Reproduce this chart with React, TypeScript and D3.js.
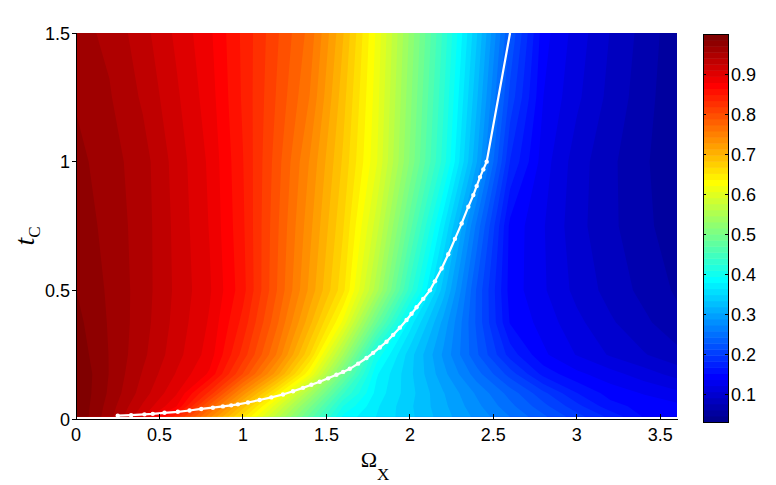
import { useEffect, useRef } from 'react';
import * as d3 from 'd3';

// colour map sampled on a grid: columns = Omega_X, rows = t_C
const omegaCols = [0, 0.2, 0.4, 0.6, 0.8, 1.0, 1.2, 1.4, 1.6, 1.8, 2.0, 2.2, 2.4, 2.6, 2.8, 3.0, 3.2, 3.4, 3.6];
const tRows = [0.01, 0.05, 0.1, 0.175, 0.25, 0.375, 0.5, 0.75, 1.0, 1.25, 1.5];

const rowT001 = [1.0, 0.96, 0.911, 0.842, 0.748, 0.658, 0.569, 0.479, 0.39, 0.363, 0.337, 0.31, 0.283, 0.257, 0.23, 0.203, 0.177, 0.15, 0.145];
const rowT005 = [1.0, 0.963, 0.922, 0.88, 0.782, 0.69, 0.598, 0.504, 0.409, 0.366, 0.336, 0.307, 0.277, 0.247, 0.217, 0.187, 0.157, 0.146, 0.14];
const rowT010 = [1.0, 0.967, 0.932, 0.896, 0.828, 0.735, 0.645, 0.544, 0.441, 0.373, 0.339, 0.304, 0.27, 0.236, 0.201, 0.167, 0.145, 0.135, 0.125];
const rowT0175 = [1.0, 0.969, 0.938, 0.908, 0.876, 0.802, 0.72, 0.623, 0.494, 0.381, 0.337, 0.293, 0.249, 0.205, 0.161, 0.14, 0.127, 0.113, 0.1];
const rowT025 = [0.995, 0.969, 0.943, 0.915, 0.887, 0.827, 0.757, 0.667, 0.545, 0.404, 0.34, 0.285, 0.23, 0.175, 0.139, 0.12, 0.104, 0.092, 0.08];
const rowT0375 = [0.99, 0.968, 0.946, 0.919, 0.892, 0.843, 0.777, 0.702, 0.617, 0.487, 0.372, 0.298, 0.224, 0.15, 0.13, 0.11, 0.093, 0.079, 0.065];
const rowT050 = [0.985, 0.967, 0.947, 0.921, 0.896, 0.854, 0.789, 0.723, 0.656, 0.552, 0.432, 0.325, 0.225, 0.145, 0.123, 0.101, 0.085, 0.071, 0.058];
const rowT075 = [0.98, 0.964, 0.947, 0.92, 0.893, 0.851, 0.792, 0.732, 0.668, 0.583, 0.476, 0.367, 0.253, 0.147, 0.122, 0.096, 0.079, 0.065, 0.05];
const rowT100 = [0.975, 0.961, 0.946, 0.918, 0.891, 0.849, 0.796, 0.741, 0.679, 0.608, 0.513, 0.418, 0.304, 0.181, 0.128, 0.098, 0.079, 0.063, 0.048];
const rowT125 = [0.968, 0.956, 0.937, 0.912, 0.886, 0.846, 0.802, 0.757, 0.688, 0.613, 0.52, 0.427, 0.321, 0.207, 0.136, 0.109, 0.086, 0.067, 0.048];
const rowT150 = [0.96, 0.951, 0.93, 0.906, 0.882, 0.845, 0.806, 0.767, 0.698, 0.618, 0.527, 0.436, 0.335, 0.226, 0.142, 0.114, 0.09, 0.07, 0.05];

// white boundary curve
const curveOmega = [0.25, 0.33, 0.41, 0.46, 0.53, 0.61, 0.68, 0.75, 0.82, 0.88, 0.93, 0.97, 1.03, 1.10, 1.17, 1.24, 1.30, 1.36, 1.41, 1.46, 1.51, 1.56, 1.60, 1.64, 1.69, 1.74, 1.78, 1.82, 1.86, 1.90, 1.94, 1.98, 2.01, 2.04, 2.08, 2.12, 2.15, 2.19, 2.23, 2.27, 2.31, 2.35, 2.38, 2.40, 2.42, 2.44, 2.46, 2.60];
const curveT = [0.013, 0.015, 0.018, 0.020, 0.024, 0.028, 0.033, 0.039, 0.044, 0.049, 0.053, 0.057, 0.064, 0.074, 0.084, 0.095, 0.108, 0.121, 0.133, 0.145, 0.158, 0.172, 0.183, 0.195, 0.215, 0.237, 0.257, 0.278, 0.30, 0.327, 0.355, 0.385, 0.409, 0.434, 0.467, 0.50, 0.535, 0.585, 0.64, 0.70, 0.76, 0.825, 0.87, 0.905, 0.94, 0.97, 1.0, 1.5];

const xTicks = [0, 0.5, 1, 1.5, 2, 2.5, 3, 3.5];
const yTicks = [0, 0.5, 1, 1.5];
const cbarTicks = [0.1, 0.2, 0.3, 0.4, 0.5, 0.6, 0.7, 0.8, 0.9];
const cMin = 0.03;
const cMax = 1.0;

const fieldRows = [rowT001, rowT005, rowT010, rowT0175, rowT025, rowT0375, rowT050, rowT075, rowT100, rowT125, rowT150];

// MATLAB style jet(m)
function jetColors(m: number): string[] {
  const n = Math.ceil(m / 4);
  const u = [
    ...d3.range(1, n + 1).map((i) => i / n),
    ...Array(n - 1).fill(1),
    ...d3.range(n, 0, -1).map((i) => i / n),
  ];
  const g0 = Math.ceil(n / 2) - (m % 4 === 1 ? 1 : 0);
  const cols = d3.range(m).map(() => [0, 0, 0]);
  u.forEach((val, k) => {
    const g = g0 + k + 1;
    const r = g + n;
    const b = g - n;
    if (r >= 1 && r <= m) cols[r - 1][0] = val;
    if (g >= 1 && g <= m) cols[g - 1][1] = val;
    if (b >= 1 && b <= m) cols[b - 1][2] = val;
  });
  return cols.map((c) => d3.rgb(c[0] * 255, c[1] * 255, c[2] * 255).formatHex());
}

const FONT = '"Liberation Sans", Arial, Helvetica, sans-serif';
const SERIF = '"Liberation Serif", "Times New Roman", serif';

export default function App() {
  const svgRef = useRef<SVGSVGElement | null>(null);

  useEffect(() => {
    const el = svgRef.current;
    if (!el) return;
    const svg = d3.select(el);
    svg.selectAll('*').remove();

    const x = d3.scaleLinear().domain([0, 3.6]).range([76, 677]);
    const y = d3.scaleLinear().domain([0, 1.5]).range([419, 33]);
    const nColors = 64;
    const jet = jetColors(nColors);
    const levels = d3.range(nColors).map((k) => cMin + (k * (cMax - cMin)) / nColors);

    // filled contours
    const nx = omegaCols.length;
    const ny = tRows.length;
    const values = fieldRows.flat();
    const bands = d3.contours().size([nx, ny]).thresholds(levels)(values);
    const gx = d3.scaleLinear().domain(omegaCols.map((_, i) => i + 0.5)).range(omegaCols).clamp(true);
    const gy = d3.scaleLinear().domain(tRows.map((_, i) => i + 0.5)).range(tRows).clamp(true);
    const proj = d3.geoTransform({
      point(px: number, py: number) {
        (this as any).stream.point(x(gx(px)), y(gy(py)));
      },
    });
    const path = d3.geoPath(proj as any);

    const defs = svg.append('defs');
    defs.append('clipPath').attr('id', 'plotClip')
      .append('rect')
      .attr('x', 76).attr('y', 33).attr('width', 601).attr('height', 386);

    const plot = svg.append('g').attr('clip-path', 'url(#plotClip)');
    plot.selectAll('path.band')
      .data(bands)
      .join('path')
      .attr('class', 'band')
      .attr('d', (d: any) => path(d))
      .attr('fill', (_d, i) => jet[i]);

    // boundary curve
    const pts = curveOmega.map((o, i) => [o, curveT[i]] as [number, number]);
    const line = d3.line<[number, number]>().x((d) => x(d[0])).y((d) => y(d[1]));
    plot.append('path')
      .datum(pts)
      .attr('fill', 'none')
      .attr('stroke', '#fff')
      .attr('stroke-width', 2.2)
      .attr('d', line);
    plot.selectAll('circle')
      .data(pts.filter((d) => d[1] <= 1.0))
      .join('circle')
      .attr('cx', (d) => x(d[0]))
      .attr('cy', (d) => y(d[1]))
      .attr('r', 2.2)
      .attr('fill', '#fff');

    // axes
    const axes = svg.append('g').attr('shape-rendering', 'crispEdges');
    axes.append('line').attr('x1', 76).attr('x2', 76).attr('y1', 33).attr('y2', 419).attr('stroke', '#000');
    axes.append('line').attr('x1', 76).attr('x2', 678).attr('y1', 419).attr('y2', 419).attr('stroke', '#000');
    axes.selectAll('line.xt').data(xTicks).join('line')
      .attr('class', 'xt')
      .attr('x1', (d) => x(d)).attr('x2', (d) => x(d))
      .attr('y1', 419).attr('y2', 414)
      .attr('stroke', '#000');
    axes.selectAll('line.yt').data(yTicks).join('line')
      .attr('class', 'yt')
      .attr('x1', 72).attr('x2', 76)
      .attr('y1', (d) => y(d)).attr('y2', (d) => y(d))
      .attr('stroke', '#000');

    svg.append('g').selectAll('text').data(xTicks).join('text')
      .attr('x', (d) => x(d)).attr('y', 441)
      .attr('text-anchor', 'middle')
      .attr('font-family', FONT).attr('font-size', 18)
      .text((d) => String(d));
    svg.append('g').selectAll('text').data(yTicks).join('text')
      .attr('x', 70).attr('y', (d) => y(d) + 6.5)
      .attr('text-anchor', 'end')
      .attr('font-family', FONT).attr('font-size', 18)
      .text((d) => String(d));

    // axis labels
    const xl = svg.append('text')
      .attr('x', 375).attr('y', 467)
      .attr('text-anchor', 'middle')
      .attr('font-family', SERIF);
    xl.append('tspan').attr('font-size', 22).text('Ω');
    xl.append('tspan').attr('font-size', 17).attr('dy', 13).text('X');

    const yl = svg.append('text')
      .attr('transform', 'translate(34,236) rotate(-90)')
      .attr('text-anchor', 'middle')
      .attr('font-family', SERIF);
    yl.append('tspan').attr('font-size', 28).attr('font-style', 'italic').text('t');
    yl.append('tspan').attr('font-size', 17).attr('dy', 6).text('C');

    // colour bar
    const cy = d3.scaleLinear().domain([cMin, cMax]).range([422, 34]);
    const cb = svg.append('g');
    cb.selectAll('rect.cell').data(levels).join('rect')
      .attr('class', 'cell')
      .attr('x', 703).attr('width', 25)
      .attr('y', (d) => cy(d + (cMax - cMin) / nColors))
      .attr('height', (d) => cy(d) - cy(d + (cMax - cMin) / nColors) + 0.5)
      .attr('fill', (_d, i) => jet[i]);
    const cbAxes = cb.append('g').attr('shape-rendering', 'crispEdges');
    cbAxes.append('rect')
      .attr('x', 703).attr('y', 34).attr('width', 25).attr('height', 388)
      .attr('fill', 'none').attr('stroke', '#000');
    cbAxes.selectAll('line.l').data(cbarTicks).join('line')
      .attr('class', 'l')
      .attr('x1', 703).attr('x2', 706)
      .attr('y1', (d) => cy(d)).attr('y2', (d) => cy(d))
      .attr('stroke', '#000');
    cbAxes.selectAll('line.r').data(cbarTicks).join('line')
      .attr('class', 'r')
      .attr('x1', 725).attr('x2', 728)
      .attr('y1', (d) => cy(d)).attr('y2', (d) => cy(d))
      .attr('stroke', '#000');
    cb.selectAll('text').data(cbarTicks).join('text')
      .attr('x', 731).attr('y', (d) => cy(d) + 6.5)
      .attr('font-family', FONT).attr('font-size', 18)
      .text((d) => d.toFixed(1));
  }, []);

  return (
    <svg
      ref={svgRef}
      width={776}
      height={485}
      style={{ position: 'absolute', left: 0, top: 0, background: '#fff', display: 'block' }}
    />
  );
}
